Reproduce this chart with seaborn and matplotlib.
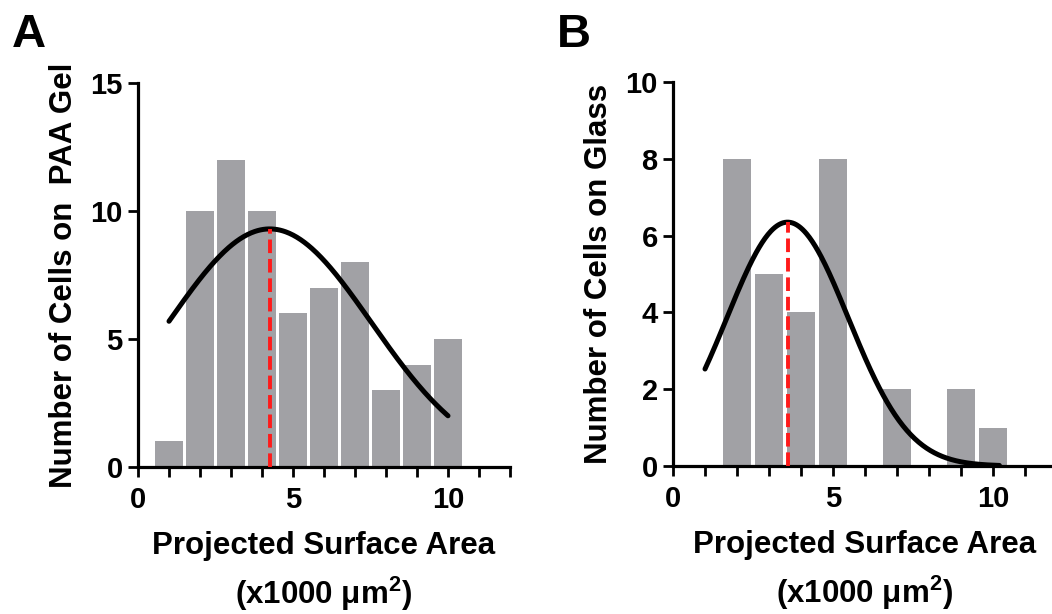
import numpy as np
import pandas as pd
import matplotlib
matplotlib.use("Agg")
import matplotlib.pyplot as plt
import seaborn as sns

# ---- data ----
bins_a = [1, 2, 3, 4, 5, 6, 7, 8, 9, 10]
counts_a = [1, 10, 12, 10, 6, 7, 8, 3, 4, 5]
bins_b = [2, 3, 4, 5, 6, 7, 8, 9, 10]
counts_b = [8, 5, 4, 8, 0, 2, 0, 2, 1]
# Gaussian fit parameters (amplitude, mean, sd, x-range)
fit_a = dict(amp=9.3, mean=4.25, sd=3.28, x0=1.0, x1=10.0)
fit_b = dict(amp=6.35, mean=3.58, sd=1.90, x0=1.0, x1=10.2)

sns.set_theme(style="ticks")
plt.rcParams['font.family'] = ['Liberation Sans', 'DejaVu Sans']
plt.rcParams['font.weight'] = 'bold'
plt.rcParams['mathtext.fontset'] = 'custom'
plt.rcParams['mathtext.rm'] = 'Liberation Sans:bold'
plt.rcParams['mathtext.bf'] = 'Liberation Sans:bold'
plt.rcParams['mathtext.it'] = 'Liberation Sans:bold'
for k in ['text.color', 'axes.labelcolor', 'xtick.color', 'ytick.color', 'axes.edgecolor']:
    plt.rcParams[k] = 'black'

BAR = '#a1a1a5'
fig = plt.figure(figsize=(10.52, 6.14), dpi=100)
W, H = 1052, 614

def panel(rect, bins, counts, fit, ylim, yticks, ylabel, letter, letter_xy):
    l, t, r, b = rect
    ax = fig.add_axes([l / W, 1 - b / H, (r - l) / W, (b - t) / H])
    df = pd.DataFrame({'x': bins, 'n': counts})
    sns.histplot(data=df, x='x', weights='n', discrete=True, shrink=0.88,
                 color=BAR, edgecolor='none', alpha=1, ax=ax)
    xs = np.linspace(fit['x0'], fit['x1'], 300)
    ys = fit['amp'] * np.exp(-(xs - fit['mean']) ** 2 / (2 * fit['sd'] ** 2))
    sns.lineplot(x=xs, y=ys, color='black', linewidth=3.6, ax=ax, zorder=4)
    ax.vlines(fit['mean'], 0, fit['amp'], colors='#ff1a1a', linestyles=(0, (3.5, 1.5)),
              linewidth=2.8, zorder=5)
    ax.set_xlim(0, 12)
    ax.set_ylim(*ylim)
    ax.set_xticks([0, 5, 10])
    ax.set_xticks(np.arange(0, 13, 1), minor=True)
    ax.set_yticks(yticks)
    sns.despine(ax=ax)
    for s in ['left', 'bottom']:
        ax.spines[s].set_linewidth(2.3)
    ax.tick_params(which='both', direction='out', width=2, length=7, labelsize=21)
    ax.tick_params(axis='y', pad=4)
    ax.tick_params(axis='x', which='both', pad=7)
    for lab in ax.get_xticklabels() + ax.get_yticklabels():
        lab.set_fontweight('bold')
    ax.set_xlabel('Projected Surface Area\n(x1000 μm$^{2}$)', fontsize=22.5,
                  fontweight='bold', labelpad=12, linespacing=1.45)
    ax.set_ylabel(ylabel, fontsize=22.5, fontweight='bold', labelpad=8)
    fig.text(letter_xy[0] / W, 1 - letter_xy[1] / H, letter, fontsize=34,
             fontweight='bold', ha='center', va='center')
    return ax

panel((138, 83, 510, 467), bins_a, counts_a, fit_a, (0, 15), [0, 5, 10, 15],
      'Number of Cells on  PAA Gel', 'A', (29, 35))
panel((673, 82, 1057, 466), bins_b, counts_b, fit_b, (0, 10), [0, 2, 4, 6, 8, 10],
      'Number of Cells on Glass', 'B', (574, 35))

fig.savefig('out.png', dpi=100)
